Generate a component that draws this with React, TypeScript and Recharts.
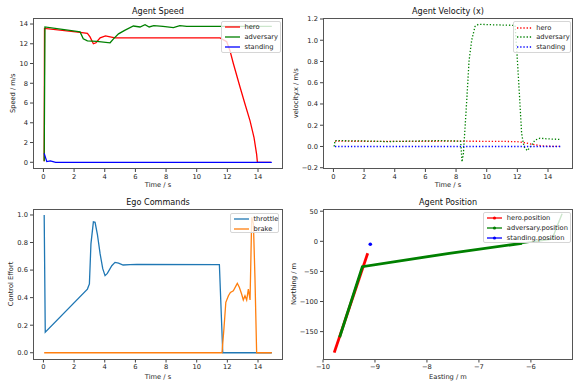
import React from "react";
import { LineChart, Line, XAxis, YAxis, Label } from "recharts";

const FONT = "'DejaVu Sans', sans-serif";
const TICK = 6.7;

// Agent speed (m/s) vs time (s)
const heroSpeedT = [0.05, 0.07, 2.39, 2.87, 3.04, 3.26, 3.43, 3.7, 4.05, 4.35, 4.68, 11.52, 11.96, 12.17, 12.39, 12.83, 13.15, 13.48, 13.74, 13.91, 13.96, 14.85];
const heroSpeed = [0.1, 13.55, 13.15, 13.05, 12.7, 12.0, 12.1, 12.6, 12.8, 12.7, 12.6, 12.6, 12.2, 11.3, 10.0, 7.6, 5.9, 4.2, 2.5, 0.8, 0.0, 0.0];
const advSpeedT = [0.05, 0.1, 2.39, 2.6, 2.87, 3.48, 4.35, 4.57, 4.9, 5.3, 5.87, 6.3, 6.63, 6.9, 7.2, 7.8, 8.48, 8.9, 9.35, 10.2, 14.9];
const advSpeed = [0.1, 13.7, 13.2, 12.5, 12.3, 12.25, 12.1, 12.5, 13.0, 13.35, 13.8, 13.7, 13.93, 13.7, 13.83, 13.76, 13.63, 13.83, 13.76, 13.76, 13.76];
const standSpeedT = [0.05, 0.22, 0.45, 0.8, 14.9];
const standSpeed = [0.9, 0.07, 0.15, 0.0, 0.0];

// Agent velocity x (m/s)
const velHeroT = [0.1, 4, 8, 11, 12, 12.4, 12.9, 13.4, 13.8, 14.85];
const velHero = [0.05, 0.048, 0.05, 0.048, 0.045, 0.038, 0.022, 0.01, 0.003, 0.0];
const velAdvT = [0.05, 0.1, 2, 3.5, 5, 7, 8.3, 8.39, 8.48, 8.59, 8.7, 8.85, 9.02, 9.24, 9.46, 10.5, 11.85, 11.96, 12.13, 12.28, 12.43, 12.65, 12.87, 13.15, 13.48, 13.9, 14.85];
const velAdv = [0.0, 0.055, 0.052, 0.046, 0.05, 0.055, 0.05, -0.145, -0.066, 0.185, 0.44, 0.81, 1.0, 1.13, 1.15, 1.145, 1.14, 0.91, 0.5, 0.12, 0.0, -0.04, 0.0, 0.06, 0.078, 0.072, 0.066];
const velStandT = [0.1, 14.85];
const velStand = [0, 0];

// Ego commands
const throttleT = [0.05, 0.12, 2.87, 3.0, 3.1, 3.26, 3.37, 3.52, 3.7, 3.87, 4.02, 4.17, 4.46, 4.67, 4.9, 5.2, 5.65, 6.1, 11.48, 11.7, 14.9];
const throttle = [1.0, 0.15, 0.462, 0.5, 0.79, 0.95, 0.947, 0.86, 0.717, 0.61, 0.56, 0.576, 0.632, 0.656, 0.651, 0.637, 0.639, 0.642, 0.639, 0.0, 0.0];
const brakeT = [0.05, 11.65, 11.78, 11.9, 12.07, 12.2, 12.39, 12.57, 12.65, 12.78, 12.93, 13.04, 13.15, 13.26, 13.37, 13.48, 13.59, 13.7, 13.8, 13.91, 14.9];
const brake = [0, 0, 0.18, 0.366, 0.414, 0.438, 0.45, 0.487, 0.504, 0.475, 0.426, 0.383, 0.414, 0.383, 0.462, 0.383, 0.983, 0.935, 0.547, 0, 0];

// Agent position (easting, northing)
const heroPosE = [-9.784, -9.14];
const heroPosN = [-184.8, -19.9];
const advPosE = [-9.68, -9.243, -7.57, -6.17];
const advPosN = [-159.3, -42.1, -19.9, -3.3];
const advTailE = [-6.17, -5.59, -5.53, -5.4];
const advTailN = [-3.3, 3.8, 17.6, 45.8];
const standPosE = [-9.09];
const standPosN = [-5.0];

// tick labels
const timeTicks = [0, 2, 4, 6, 8, 10, 12, 14];
const speedTicks = [0, 2, 4, 6, 8, 10, 12, 14];
const velTicks = [-0.2, 0, 0.2, 0.4, 0.6, 0.8, 1.0, 1.2];
const effortTicks = [0, 0.2, 0.4, 0.6, 0.8, 1.0];
const eastTicks = [-10, -9, -8, -7, -6];
const northTicks = [-150, -100, -50, 0, 50];

const zip = (xs: number[], ys: number[]) => xs.map((x, i) => ({ x, y: ys[i] }));
const fmt = (d: number) => (v: number) => {
  const s = Math.abs(v).toFixed(d);
  return v < -1e-9 ? "\u2212" + s : s;
};

type Series = {
  name: string;
  data: { x: number; y: number }[];
  color: string;
  width?: number;
  dash?: string;
  dot?: boolean;
  opacity?: number;
};

type LegendItem = { name: string; color: string; dash?: string; marker?: boolean };

type PanelProps = {
  left: number;
  top: number;
  box: [number, number, number, number]; // plot left, top, right, bottom (page coords)
  title: string;
  xLabel: string;
  yLabel: string;
  yLabelX: number;
  xDomain: [number, number];
  yDomain: [number, number];
  xTicks: number[];
  yTicks: number[];
  xFmt: (v: number) => string;
  yFmt: (v: number) => string;
  series: Series[];
  legend: LegendItem[];
  legendBox: [number, number, number, number]; // left, top, width, height
};

const W = 290;
const H = 194;

function LegendBox({ items, box }: { items: LegendItem[]; box: [number, number, number, number] }) {
  return (
    <div
      style={{
        position: "absolute",
        left: box[0],
        top: box[1],
        width: box[2],
        height: box[3],
        boxSizing: "border-box",
        border: "1px solid #d6d6d6",
        borderRadius: 2,
        background: "rgba(255,255,255,0.8)",
        paddingTop: 0.5,
        paddingLeft: 3,
        fontFamily: FONT,
        fontSize: TICK,
        color: "#222",
      }}
    >
      {items.map((it) => (
        <div key={it.name} style={{ height: 9.8, display: "flex", alignItems: "center", whiteSpace: "nowrap" }}>
          <svg width={15} height={6} style={{ marginRight: 4.5, flex: "none" }}>
            <line x1={0} y1={3} x2={15} y2={3} stroke={it.color} strokeWidth={1.3} strokeDasharray={it.dash} />
            {it.marker && <circle cx={7.5} cy={3} r={1.6} fill={it.color} />}
          </svg>
          <span>{it.name}</span>
        </div>
      ))}
    </div>
  );
}

function Panel(p: PanelProps) {
  const [pl, pt, pr, pb] = p.box;
  const yAxisW = pl - p.left;
  const xAxisH = p.top + H - pb;
  const tickStyle = { fontSize: TICK, fill: "#222", fontFamily: FONT };
  return (
    <div style={{ position: "absolute", left: p.left, top: p.top, width: W, height: H }}>
      <div
        style={{
          position: "absolute",
          left: (pl + pr) / 2 - p.left,
          top: pt - p.top - 6.5,
          transform: "translate(-50%, -50%)",
          fontFamily: FONT,
          fontSize: 8.1,
          color: "#111",
          whiteSpace: "nowrap",
        }}
      >
        {p.title}
      </div>
      <LineChart
        width={W}
        height={H}
        margin={{ top: pt - p.top, right: p.left + W - pr, bottom: 0, left: 0 }}
      >
        <XAxis
          type="number"
          dataKey="x"
          domain={p.xDomain}
          ticks={p.xTicks}
          interval={0}
          allowDataOverflow
          axisLine={false}
          tickSize={3}
          tickLine={{ stroke: "#444" }}
          tick={tickStyle}
          tickFormatter={p.xFmt}
          height={xAxisH}
        >
          <Label
            value={p.xLabel}
            position="insideBottom"
            offset={p.top === 0 ? 6.6 : 8.9}
            style={{ fontSize: TICK, fill: "#222", fontFamily: FONT }}
          />
        </XAxis>
        <YAxis
          type="number"
          dataKey="y"
          domain={p.yDomain}
          ticks={p.yTicks}
          interval={0}
          allowDataOverflow
          axisLine={false}
          tickSize={3}
          tickLine={{ stroke: "#444" }}
          tick={tickStyle}
          tickFormatter={p.yFmt}
          width={yAxisW}
        >
          <Label
            value={p.yLabel}
            position="insideLeft"
            angle={-90}
            offset={p.yLabelX}
            textAnchor="middle"
            style={{ fontSize: TICK, fill: "#222", fontFamily: FONT, textAnchor: "middle" }}
          />
        </YAxis>
        {p.series.map((s) => (
          <Line
            key={s.name}
            data={s.data}
            dataKey="y"
            name={s.name}
            type="linear"
            stroke={s.color}
            strokeWidth={s.width ?? 1.3}
            strokeDasharray={s.dash}
            strokeOpacity={s.opacity ?? 1}
            dot={s.dot ? { r: 1.8, fill: s.color, stroke: "none" } : false}
            activeDot={false}
            isAnimationActive={false}
          />
        ))}
      </LineChart>
      <div
        style={{
          position: "absolute",
          left: pl - p.left,
          top: pt - p.top,
          width: pr - pl,
          height: pb - pt,
          boxSizing: "border-box",
          border: "1px solid #555",
          pointerEvents: "none",
        }}
      />
      <LegendBox
        items={p.legend}
        box={[p.legendBox[0] - p.left, p.legendBox[1] - p.top, p.legendBox[2], p.legendBox[3]]}
      />
    </div>
  );
}

const DOT = "1.3 1.9";

export default function App() {
  return (
    <div style={{ position: "absolute", left: 0, top: 0, width: 581, height: 388, background: "#fff" }}>
      <Panel
        left={0}
        top={0}
        box={[33, 17.5, 283, 169]}
        title="Agent Speed"
        xLabel="Time / s"
        yLabel="Speed / m/s"
        yLabelX={12.3}
        xDomain={[-0.68, 15.63]}
        yDomain={[-0.68, 14.66]}
        xTicks={timeTicks}
        yTicks={speedTicks}
        xFmt={fmt(0)}
        yFmt={fmt(0)}
        series={[
          { name: "hero", data: zip(heroSpeedT, heroSpeed), color: "#ff0000" },
          { name: "adversary", data: zip(advSpeedT, advSpeed), color: "#008000" },
          { name: "standing", data: zip(standSpeedT, standSpeed), color: "#0000ff" },
        ]}
        legend={[
          { name: "hero", color: "#ff0000" },
          { name: "adversary", color: "#008000" },
          { name: "standing", color: "#0000ff" },
        ]}
        legendBox={[221, 20.7, 60, 32]}
      />
      <Panel
        left={290}
        top={0}
        box={[323, 17.5, 573, 169]}
        title="Agent Velocity (x)"
        xLabel="Time / s"
        yLabel="velocity.x / m/s"
        yLabelX={6}
        xDomain={[-0.68, 15.63]}
        yDomain={[-0.212, 1.214]}
        xTicks={timeTicks}
        yTicks={velTicks}
        xFmt={fmt(0)}
        yFmt={fmt(1)}
        series={[
          { name: "hero", data: zip(velHeroT, velHero), color: "#ff0000", dash: DOT },
          { name: "adversary", data: zip(velAdvT, velAdv), color: "#008000", dash: DOT },
          { name: "standing", data: zip(velStandT, velStand), color: "#0000ff", dash: DOT },
        ]}
        legend={[
          { name: "hero", color: "#ff0000", dash: DOT },
          { name: "adversary", color: "#008000", dash: DOT },
          { name: "standing", color: "#0000ff", dash: DOT },
        ]}
        legendBox={[512.7, 21.3, 58, 31.4]}
      />
      <Panel
        left={0}
        top={194}
        box={[33, 208.5, 283, 359.5]}
        title="Ego Commands"
        xLabel="Time / s"
        yLabel="Control Effort"
        yLabelX={10.7}
        xDomain={[-0.68, 15.63]}
        yDomain={[-0.049, 1.047]}
        xTicks={timeTicks}
        yTicks={effortTicks}
        xFmt={fmt(0)}
        yFmt={fmt(1)}
        series={[
          { name: "throttle", data: zip(throttleT, throttle), color: "#1f77b4" },
          { name: "brake", data: zip(brakeT, brake), color: "#ff7f0e" },
        ]}
        legend={[
          { name: "throttle", color: "#1f77b4" },
          { name: "brake", color: "#ff7f0e" },
        ]}
        legendBox={[230, 212.7, 49, 20.6]}
      />
      <Panel
        left={290}
        top={194}
        box={[323, 208.5, 573, 359.5]}
        title="Agent Position"
        xLabel="Easting / m"
        yLabel="Northing / m"
        yLabelX={3.3}
        xDomain={[-10.0, -5.19]}
        yDomain={[-196.3, 54.5]}
        xTicks={eastTicks}
        yTicks={northTicks}
        xFmt={fmt(0)}
        yFmt={fmt(0)}
        series={[
          { name: "hero.position", data: zip(heroPosE, heroPosN), color: "#ff0000", width: 2.8 },
          { name: "adversary.position", data: zip(advPosE, advPosN), color: "#008000", width: 2.8 },
          { name: "adversary.tail", data: zip(advTailE, advTailN), color: "#008000", width: 1.4 },
          { name: "standing.position", data: zip(standPosE, standPosN), color: "#0000ff", dot: true },
        ]}
        legend={[
          { name: "hero.position", color: "#ff0000", marker: true },
          { name: "adversary.position", color: "#008000", marker: true },
          { name: "standing.position", color: "#0000ff", marker: true },
        ]}
        legendBox={[483.3, 211.7, 87.4, 31.6]}
      />
    </div>
  );
}
